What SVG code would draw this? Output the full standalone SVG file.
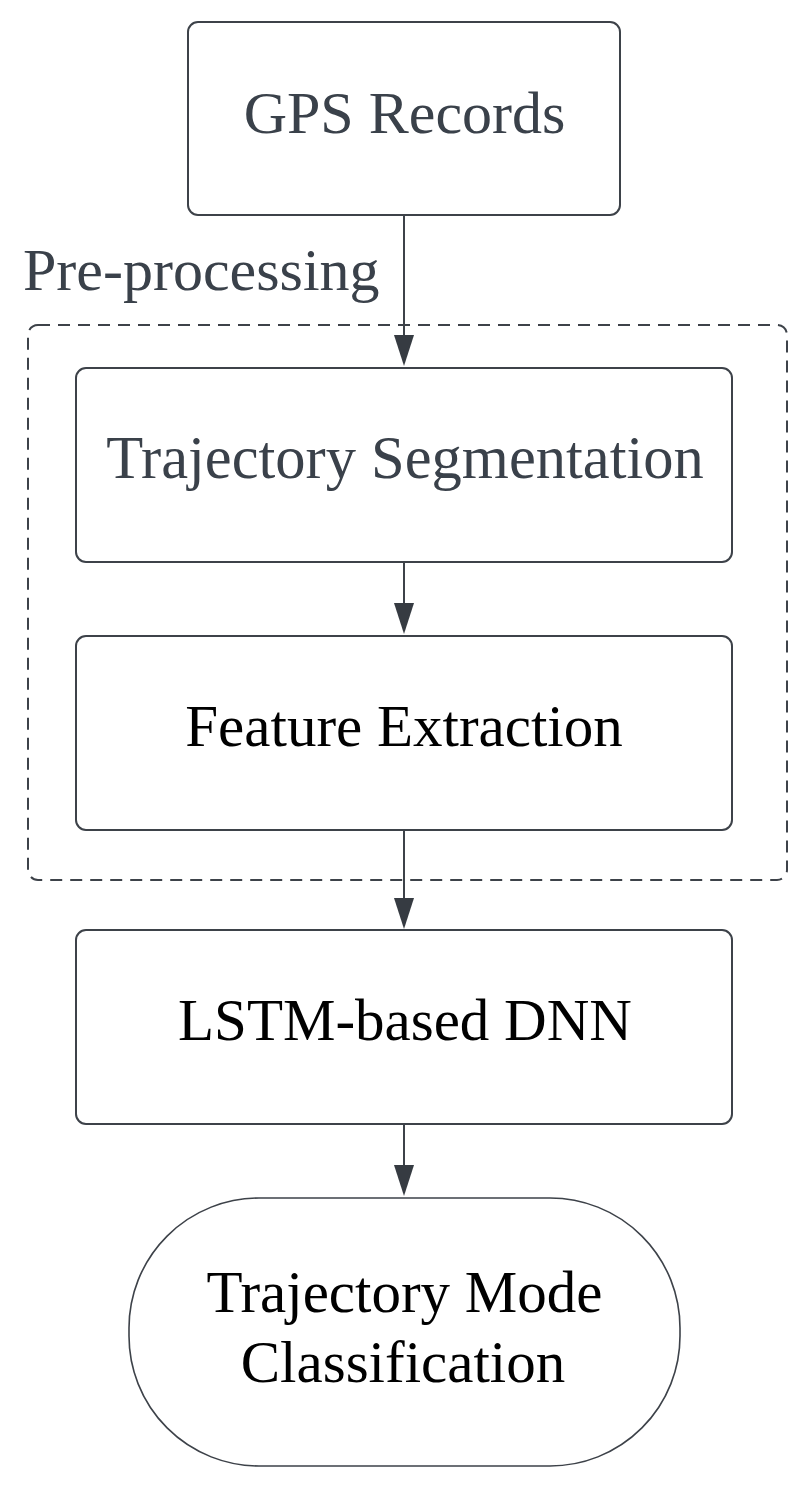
<svg xmlns="http://www.w3.org/2000/svg" width="808" height="1486" viewBox="0 0 808 1486">
<defs>
<style>
.box{fill:#fff;stroke:#3d4249;stroke-width:2}
.term{fill:#fff;stroke:#3d4249;stroke-width:1.6}
.grp{fill:none;stroke:#3d4249;stroke-width:2;stroke-dasharray:12 8}
.conn{stroke:#3d4249;stroke-width:2;fill:none}
.head{fill:#363b42}
.t{font-family:"Liberation Serif","Times New Roman",serif;font-size:60px;text-anchor:middle}
.g{fill:#3a414a}
.k{fill:#000;font-size:59px}
</style>
</defs>
<rect width="808" height="1486" fill="#fff"/>
<g id="preprocessing">
<rect class="grp" x="28" y="325" width="759" height="555" rx="10"/>
<text class="t g" x="23" y="290" style="text-anchor:start">Pre-processing</text>
</g>
<g id="connectors">
<line class="conn" x1="404" y1="215" x2="404" y2="335"/>
<path class="head" d="M394,335 L414,335 L404,366 Z"/>
<line class="conn" x1="404" y1="562" x2="404" y2="603"/>
<path class="head" d="M394,603 L414,603 L404,634 Z"/>
<line class="conn" x1="404" y1="830" x2="404" y2="898"/>
<path class="head" d="M394,898 L414,898 L404,929 Z"/>
<line class="conn" x1="404" y1="1124" x2="404" y2="1165"/>
<path class="head" d="M394,1165 L414,1165 L404,1196 Z"/>
</g>
<g id="gps">
<rect class="box" x="188" y="22" width="432" height="193" rx="10"/>
<text class="t g" x="404.5" y="133">GPS Records</text>
</g>
<g id="segmentation">
<rect class="box" x="76" y="368" width="656" height="194" rx="10"/>
<text class="t g" x="405" y="478" style="font-size:60.5px">Trajectory Segmentation</text>
</g>
<g id="feature">
<rect class="box" x="76" y="636" width="656" height="194" rx="10"/>
<text class="t k" x="404" y="746">Feature Extraction</text>
</g>
<g id="lstm">
<rect class="box" x="76" y="930" width="656" height="194" rx="10"/>
<text class="t k" x="405" y="1040">LSTM-based DNN</text>
</g>
<g id="classification">
<rect class="term" x="129" y="1198" width="551" height="268" rx="130" ry="130"/>
<text class="t k" x="404.5" y="1312">Trajectory Mode</text>
<text class="t k" x="403" y="1382">Classification</text>
</g>
</svg>
